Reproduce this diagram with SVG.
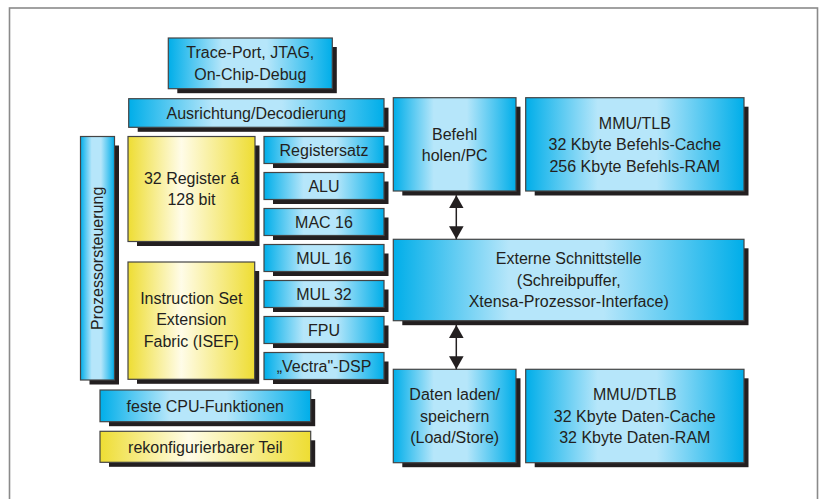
<svg xmlns="http://www.w3.org/2000/svg" width="821" height="499" viewBox="0 0 821 499">
  <defs>
    <linearGradient id="blue" x1="0" y1="0" x2="1" y2="0">
      <stop offset="0" stop-color="#00aee9"/>
      <stop offset="0.33" stop-color="#b6e6fa"/>
      <stop offset="0.6" stop-color="#b6e6fa"/>
      <stop offset="1" stop-color="#00aee9"/>
    </linearGradient>
    <linearGradient id="yellow" x1="0" y1="0" x2="1" y2="0">
      <stop offset="0" stop-color="#eedd33"/>
      <stop offset="0.42" stop-color="#fffce8"/>
      <stop offset="1" stop-color="#eedd33"/>
    </linearGradient>
    <marker id="head" markerUnits="userSpaceOnUse" markerWidth="14" markerHeight="15" refX="13" refY="7.3" orient="auto-start-reverse">
      <path d="M0,0 L13,7.3 L0,14.6 Z" fill="#231f20"/>
    </marker>
    <style>
      .shadow { fill: #231f20; }
      .b { fill: url(#blue); stroke: #444; stroke-width: 1.2; }
      .y { fill: url(#yellow); stroke: #444; stroke-width: 1.2; }
      text { font-family: "Liberation Sans", Arial, sans-serif; font-size: 16px; fill: #231f20; text-anchor: middle; }
      .link { stroke: #231f20; stroke-width: 1.5; fill: none; marker-start: url(#head); marker-end: url(#head); }
    </style>
  </defs>

  <rect width="821" height="499" fill="#ffffff"/>
  <!-- outer frame -->
  <rect x="9.5" y="8" width="808" height="520" fill="none" stroke="#8a8a8a" stroke-width="1.6"/>

  <!-- left: processor core -->
  <g id="trace">
    <rect class="shadow" x="177.3" y="47" width="159.5" height="46.2"/>
    <rect class="b" x="168.3" y="38" width="164" height="50.7"/>
    <text x="250.3" y="58">Trace-Port, JTAG,</text>
    <text x="250.3" y="79.5">On-Chip-Debug</text>
  </g>
  <g id="decode">
    <rect class="shadow" x="137.7" y="107.7" width="250.8" height="24.1"/>
    <rect class="b" x="128.7" y="98.7" width="255.3" height="28.6"/>
    <text x="256.3" y="118.7">Ausrichtung/Decodierung</text>
  </g>
  <g id="ctrl">
    <rect class="shadow" x="89.5" y="145.5" width="29.5" height="239"/>
    <rect class="b" x="80.5" y="136.5" width="34" height="243.5"/>
    <text transform="translate(97.5,258.3) rotate(-90)" x="0" y="5.7">Prozessorsteuerung</text>
  </g>
  <g id="regs">
    <rect class="shadow" x="137" y="145.5" width="122.5" height="100.5"/>
    <rect class="y" x="128" y="136.5" width="127" height="105"/>
    <text x="191.5" y="183.5">32 Register á</text>
    <text x="191.5" y="204.5">128 bit</text>
  </g>
  <g id="isef">
    <rect class="shadow" x="137" y="271" width="122.2" height="112.8"/>
    <rect class="y" x="128" y="262" width="126.7" height="117.3"/>
    <text x="191.3" y="303.5">Instruction Set</text>
    <text x="191.3" y="325">Extension</text>
    <text x="191.3" y="346.5">Fabric (ISEF)</text>
  </g>

  <!-- execution units -->
  <g id="regfile">
    <rect class="shadow" x="273" y="145.5" width="115.5" height="22.5"/>
    <rect class="b" x="264" y="136.5" width="120" height="27"/>
    <text x="324" y="155.7">Registersatz</text>
  </g>
  <g id="alu">
    <rect class="shadow" x="273" y="181.5" width="115.5" height="22.5"/>
    <rect class="b" x="264" y="172.5" width="120" height="27"/>
    <text x="324" y="191.7">ALU</text>
  </g>
  <g id="mac16">
    <rect class="shadow" x="273" y="217.5" width="115.5" height="22.5"/>
    <rect class="b" x="264" y="208.5" width="120" height="27"/>
    <text x="324" y="227.7">MAC 16</text>
  </g>
  <g id="mul16">
    <rect class="shadow" x="273" y="253.5" width="115.5" height="22.5"/>
    <rect class="b" x="264" y="244.5" width="120" height="27"/>
    <text x="324" y="263.7">MUL 16</text>
  </g>
  <g id="mul32">
    <rect class="shadow" x="273" y="289.5" width="115.5" height="22.5"/>
    <rect class="b" x="264" y="280.5" width="120" height="27"/>
    <text x="324" y="299.7">MUL 32</text>
  </g>
  <g id="fpu">
    <rect class="shadow" x="273" y="325.5" width="115.5" height="22.5"/>
    <rect class="b" x="264" y="316.5" width="120" height="27"/>
    <text x="324" y="335.7">FPU</text>
  </g>
  <g id="dsp">
    <rect class="shadow" x="273" y="361.5" width="115.5" height="22.5"/>
    <rect class="b" x="264" y="352.5" width="120" height="27"/>
    <text x="324" y="371.7">„Vectra"-DSP</text>
  </g>

  <!-- legend -->
  <g id="legend-fixed">
    <rect class="shadow" x="109" y="399" width="206.2" height="27.2"/>
    <rect class="b" x="100" y="390" width="210.7" height="31.7"/>
    <text x="205.3" y="411.5">feste CPU-Funktionen</text>
  </g>
  <g id="legend-reconf">
    <rect class="shadow" x="109" y="440.3" width="206.2" height="26.5"/>
    <rect class="y" x="100" y="431.3" width="210.7" height="31"/>
    <text x="205.3" y="452.5">rekonfigurierbarer Teil</text>
  </g>

  <!-- right: memory side -->
  <g id="fetch">
    <rect class="shadow" x="402.3" y="106.7" width="118.2" height="88.8"/>
    <rect class="b" x="393.3" y="97.7" width="122.7" height="93.3"/>
    <text x="454.7" y="139.5">Befehl</text>
    <text x="454.7" y="160.5">holen/PC</text>
  </g>
  <g id="imem">
    <rect class="shadow" x="534.7" y="106.7" width="213.8" height="88.8"/>
    <rect class="b" x="525.7" y="97.7" width="218.3" height="93.3"/>
    <text x="634.8" y="128.5">MMU/TLB</text>
    <text x="634.8" y="150">32 Kbyte Befehls-Cache</text>
    <text x="634.8" y="171.5">256 Kbyte Befehls-RAM</text>
  </g>
  <g id="ext">
    <rect class="shadow" x="402.3" y="248.3" width="346.2" height="76.9"/>
    <rect class="b" x="393.3" y="239.3" width="350.7" height="81.4"/>
    <text x="568.7" y="264">Externe Schnittstelle</text>
    <text x="568.7" y="285.7">(Schreibpuffer,</text>
    <text x="568.7" y="307.2">Xtensa-Prozessor-Interface)</text>
  </g>
  <g id="ldst">
    <rect class="shadow" x="402.3" y="378.3" width="118.2" height="88.9"/>
    <rect class="b" x="393.3" y="369.3" width="122.7" height="93.4"/>
    <text x="454.7" y="400">Daten laden/</text>
    <text x="454.7" y="421.7">speichern</text>
    <text x="454.7" y="443.2">(Load/Store)</text>
  </g>
  <g id="dmem">
    <rect class="shadow" x="534.7" y="378.3" width="213.8" height="88.9"/>
    <rect class="b" x="525.7" y="369.3" width="218.3" height="93.4"/>
    <text x="634.8" y="400">MMU/DTLB</text>
    <text x="634.8" y="421.7">32 Kbyte Daten-Cache</text>
    <text x="634.8" y="443.2">32 Kbyte Daten-RAM</text>
  </g>

  <!-- connectors -->
  <g id="connectors">
    <line class="link" x1="456.3" y1="195.2" x2="456.3" y2="239.3"/>
    <line class="link" x1="456.3" y1="325" x2="456.3" y2="369.3"/>
  </g>
</svg>
